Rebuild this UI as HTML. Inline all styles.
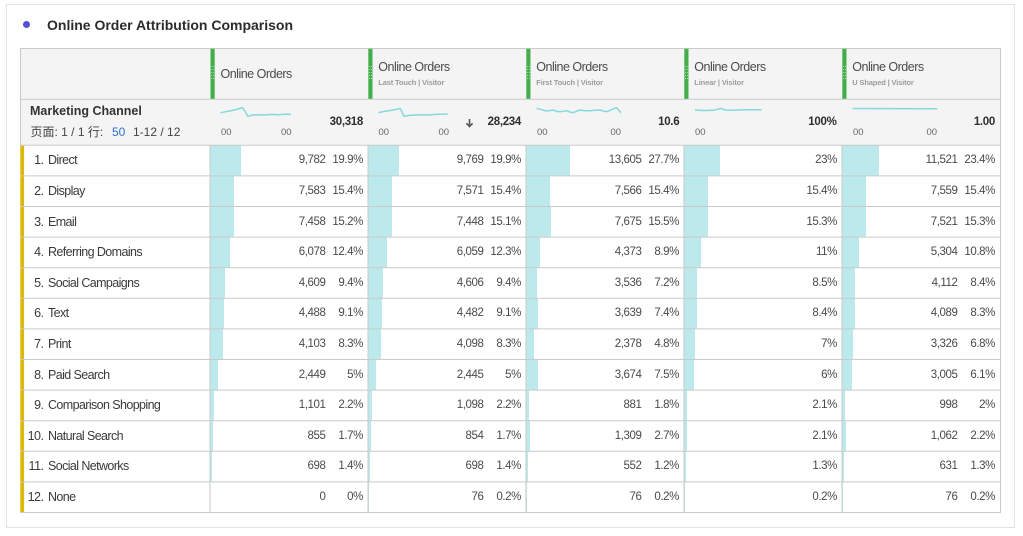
<!DOCTYPE html>
<html><head><meta charset="utf-8">
<style>
*{margin:0;padding:0;box-sizing:border-box}
body{width:1023px;height:536px;background:#fff;position:relative;overflow:hidden;font-family:"Liberation Sans","Noto Sans CJK SC",sans-serif;color:#4a4a4a}
.abs{position:absolute;white-space:nowrap}
.card{position:absolute;left:6px;top:4px;width:1009px;height:524px;border:1px solid #e2e2e2}
.hdbg{position:absolute;left:20px;top:48px;width:981px;height:97.3px;background:#f4f4f4}
.row{position:absolute;left:0;width:1023px;height:30.6px;line-height:30.6px;font-size:11.5px;letter-spacing:-0.4px;white-space:nowrap;color:#4a4a4a}
.row span{position:absolute;top:0}
.b{position:absolute;top:0;height:30.6px;background:#bceaec}
.ln{right:979.5px;font-size:12.5px;letter-spacing:-0.5px;color:#3a3a3a}
.lt{left:48px;font-size:12.5px;letter-spacing:-0.6px;color:#3a3a3a}
.n1{right:697.5px}.p1{right:660px}.n2{right:539.5px}.p2{right:502px}.n3{right:381.5px}.p3{right:344px}.p4{right:186px}.n5{right:65.5px}.p5{right:28px}
.ht{font-size:12.5px;letter-spacing:-0.5px;color:#4b4b4b;height:16px;line-height:16px}
.hs{font-size:7.5px;font-weight:bold;letter-spacing:-0.15px;color:#9c9c9c;height:10px;line-height:10px;top:78px}
.zz{font-size:9.5px;color:#666;top:127.3px;height:12px;line-height:12px}
.tot{font-size:11.5px;font-weight:bold;letter-spacing:-0.3px;color:#2e2e2e;top:114.3px;height:16px;line-height:16px;text-align:right;width:80px}
</style></head><body>
<div class="card"></div>
<div class="abs" style="left:22.7px;top:21.2px;width:7px;height:7px;border-radius:50%;background:#5050d8"></div>
<div class="abs" style="left:47px;top:16px;height:18px;line-height:18px;font-size:14px;font-weight:bold;color:#2c2c2c">Online Order Attribution Comparison</div>

<div class="hdbg"></div>

<!-- rows -->
<div class="row" style="top:145.3px">
<div class="b" style="left:210px;width:31.4px"></div><div class="b" style="left:368px;width:31.4px"></div><div class="b" style="left:526px;width:43.8px"></div><div class="b" style="left:684px;width:36.3px"></div><div class="b" style="left:842px;width:37px"></div>
<span class="ln">1.</span><span class="lt">Direct</span>
<span class="n1">9,782</span><span class="p1">19.9%</span><span class="n2">9,769</span><span class="p2">19.9%</span><span class="n3">13,605</span><span class="p3">27.7%</span><span class="p4">23%</span><span class="n5">11,521</span><span class="p5">23.4%</span>
</div>
<div class="row" style="top:175.9px">
<div class="b" style="left:210px;width:24.3px"></div><div class="b" style="left:368px;width:24.3px"></div><div class="b" style="left:526px;width:24.3px"></div><div class="b" style="left:684px;width:24.3px"></div><div class="b" style="left:842px;width:24.3px"></div>
<span class="ln">2.</span><span class="lt">Display</span>
<span class="n1">7,583</span><span class="p1">15.4%</span><span class="n2">7,571</span><span class="p2">15.4%</span><span class="n3">7,566</span><span class="p3">15.4%</span><span class="p4">15.4%</span><span class="n5">7,559</span><span class="p5">15.4%</span>
</div>
<div class="row" style="top:206.5px">
<div class="b" style="left:210px;width:24px"></div><div class="b" style="left:368px;width:23.9px"></div><div class="b" style="left:526px;width:24.5px"></div><div class="b" style="left:684px;width:24.2px"></div><div class="b" style="left:842px;width:24.2px"></div>
<span class="ln">3.</span><span class="lt">Email</span>
<span class="n1">7,458</span><span class="p1">15.2%</span><span class="n2">7,448</span><span class="p2">15.1%</span><span class="n3">7,675</span><span class="p3">15.5%</span><span class="p4">15.3%</span><span class="n5">7,521</span><span class="p5">15.3%</span>
</div>
<div class="row" style="top:237.1px">
<div class="b" style="left:210px;width:19.6px"></div><div class="b" style="left:368px;width:19.4px"></div><div class="b" style="left:526px;width:14.1px"></div><div class="b" style="left:684px;width:17.4px"></div><div class="b" style="left:842px;width:17.1px"></div>
<span class="ln">4.</span><span class="lt">Referring Domains</span>
<span class="n1">6,078</span><span class="p1">12.4%</span><span class="n2">6,059</span><span class="p2">12.3%</span><span class="n3">4,373</span><span class="p3">8.9%</span><span class="p4">11%</span><span class="n5">5,304</span><span class="p5">10.8%</span>
</div>
<div class="row" style="top:267.7px">
<div class="b" style="left:210px;width:14.9px"></div><div class="b" style="left:368px;width:14.9px"></div><div class="b" style="left:526px;width:11.4px"></div><div class="b" style="left:684px;width:13.4px"></div><div class="b" style="left:842px;width:13.3px"></div>
<span class="ln">5.</span><span class="lt">Social Campaigns</span>
<span class="n1">4,609</span><span class="p1">9.4%</span><span class="n2">4,606</span><span class="p2">9.4%</span><span class="n3">3,536</span><span class="p3">7.2%</span><span class="p4">8.5%</span><span class="n5">4,112</span><span class="p5">8.4%</span>
</div>
<div class="row" style="top:298.3px">
<div class="b" style="left:210px;width:14.4px"></div><div class="b" style="left:368px;width:14.4px"></div><div class="b" style="left:526px;width:11.7px"></div><div class="b" style="left:684px;width:13.3px"></div><div class="b" style="left:842px;width:13.1px"></div>
<span class="ln">6.</span><span class="lt">Text</span>
<span class="n1">4,488</span><span class="p1">9.1%</span><span class="n2">4,482</span><span class="p2">9.1%</span><span class="n3">3,639</span><span class="p3">7.4%</span><span class="p4">8.4%</span><span class="n5">4,089</span><span class="p5">8.3%</span>
</div>
<div class="row" style="top:328.9px">
<div class="b" style="left:210px;width:13.1px"></div><div class="b" style="left:368px;width:13.1px"></div><div class="b" style="left:526px;width:7.6px"></div><div class="b" style="left:684px;width:11.1px"></div><div class="b" style="left:842px;width:10.7px"></div>
<span class="ln">7.</span><span class="lt">Print</span>
<span class="n1">4,103</span><span class="p1">8.3%</span><span class="n2">4,098</span><span class="p2">8.3%</span><span class="n3">2,378</span><span class="p3">4.8%</span><span class="p4">7%</span><span class="n5">3,326</span><span class="p5">6.8%</span>
</div>
<div class="row" style="top:359.5px">
<div class="b" style="left:210px;width:7.9px"></div><div class="b" style="left:368px;width:7.9px"></div><div class="b" style="left:526px;width:11.9px"></div><div class="b" style="left:684px;width:9.5px"></div><div class="b" style="left:842px;width:9.6px"></div>
<span class="ln">8.</span><span class="lt">Paid Search</span>
<span class="n1">2,449</span><span class="p1">5%</span><span class="n2">2,445</span><span class="p2">5%</span><span class="n3">3,674</span><span class="p3">7.5%</span><span class="p4">6%</span><span class="n5">3,005</span><span class="p5">6.1%</span>
</div>
<div class="row" style="top:390.1px">
<div class="b" style="left:210px;width:3.5px"></div><div class="b" style="left:368px;width:3.5px"></div><div class="b" style="left:526px;width:2.8px"></div><div class="b" style="left:684px;width:3.3px"></div><div class="b" style="left:842px;width:3.2px"></div>
<span class="ln">9.</span><span class="lt">Comparison Shopping</span>
<span class="n1">1,101</span><span class="p1">2.2%</span><span class="n2">1,098</span><span class="p2">2.2%</span><span class="n3">881</span><span class="p3">1.8%</span><span class="p4">2.1%</span><span class="n5">998</span><span class="p5">2%</span>
</div>
<div class="row" style="top:420.7px">
<div class="b" style="left:210px;width:2.7px"></div><div class="b" style="left:368px;width:2.7px"></div><div class="b" style="left:526px;width:4.3px"></div><div class="b" style="left:684px;width:3.3px"></div><div class="b" style="left:842px;width:3.5px"></div>
<span class="ln">10.</span><span class="lt">Natural Search</span>
<span class="n1">855</span><span class="p1">1.7%</span><span class="n2">854</span><span class="p2">1.7%</span><span class="n3">1,309</span><span class="p3">2.7%</span><span class="p4">2.1%</span><span class="n5">1,062</span><span class="p5">2.2%</span>
</div>
<div class="row" style="top:451.3px">
<div class="b" style="left:210px;width:2.2px"></div><div class="b" style="left:368px;width:2.2px"></div><div class="b" style="left:526px;width:1.9px"></div><div class="b" style="left:684px;width:2.1px"></div><div class="b" style="left:842px;width:2.1px"></div>
<span class="ln">11.</span><span class="lt">Social Networks</span>
<span class="n1">698</span><span class="p1">1.4%</span><span class="n2">698</span><span class="p2">1.4%</span><span class="n3">552</span><span class="p3">1.2%</span><span class="p4">1.3%</span><span class="n5">631</span><span class="p5">1.3%</span>
</div>
<div class="row" style="top:481.9px">
<div class="b" style="left:368px;width:1.4px"></div><div class="b" style="left:526px;width:1.4px"></div><div class="b" style="left:684px;width:1.4px"></div><div class="b" style="left:842px;width:1.4px"></div>
<span class="ln">12.</span><span class="lt">None</span>
<span class="n1">0</span><span class="p1">0%</span><span class="n2">76</span><span class="p2">0.2%</span><span class="n3">76</span><span class="p3">0.2%</span><span class="p4">0.2%</span><span class="n5">76</span><span class="p5">0.2%</span>
</div>

<svg class="abs" style="left:0;top:0" width="1023" height="536" viewBox="0 0 1023 536">
  <!-- yellow markers -->
  <rect x="20.3" y="145.3" width="3.8" height="367.2" fill="#dfb60a"/>
  <g stroke="#cacaca" stroke-width="1" fill="none">
    <line x1="20" y1="48.5" x2="1001" y2="48.5"/>
    <line x1="20" y1="99.3" x2="1001" y2="99.3"/>
    <line x1="20" y1="145.3" x2="1001" y2="145.3"/>
    <line x1="20" y1="175.9" x2="1001" y2="175.9"/>
    <line x1="20" y1="206.5" x2="1001" y2="206.5"/>
    <line x1="20" y1="237.1" x2="1001" y2="237.1"/>
    <line x1="20" y1="267.7" x2="1001" y2="267.7"/>
    <line x1="20" y1="298.3" x2="1001" y2="298.3"/>
    <line x1="20" y1="328.9" x2="1001" y2="328.9"/>
    <line x1="20" y1="359.5" x2="1001" y2="359.5"/>
    <line x1="20" y1="390.1" x2="1001" y2="390.1"/>
    <line x1="20" y1="420.7" x2="1001" y2="420.7"/>
    <line x1="20" y1="451.3" x2="1001" y2="451.3"/>
    <line x1="20" y1="481.9" x2="1001" y2="481.9"/>
    <line x1="20" y1="512.5" x2="1001" y2="512.5"/>
    <line x1="20.5" y1="48" x2="20.5" y2="145.3"/>
    <line x1="1000.5" y1="48" x2="1000.5" y2="513"/>
    <line x1="210" y1="145.3" x2="210" y2="512.5"/>
    <line x1="368" y1="145.3" x2="368" y2="512.5"/>
    <line x1="526" y1="145.3" x2="526" y2="512.5"/>
    <line x1="684" y1="145.3" x2="684" y2="512.5"/>
    <line x1="842" y1="145.3" x2="842" y2="512.5"/>
  </g>
  <!-- green header grips -->
  <g fill="#43ae4b">
    <rect x="210.5" y="48.8" width="4.2" height="50"/>
    <rect x="368.3" y="48.8" width="4.2" height="50"/>
    <rect x="526.3" y="48.8" width="4.2" height="50"/>
    <rect x="684.3" y="48.8" width="4.2" height="50"/>
    <rect x="842.3" y="48.8" width="4.2" height="50"/>
  </g>
  <g fill="#a8dcab">
    <rect x="211.3" y="66" width="1" height="1"/><rect x="213.3" y="66" width="1" height="1"/>
    <rect x="211.3" y="69" width="1" height="1"/><rect x="213.3" y="69" width="1" height="1"/>
    <rect x="211.3" y="72" width="1" height="1"/><rect x="213.3" y="72" width="1" height="1"/>
    <rect x="211.3" y="75" width="1" height="1"/><rect x="213.3" y="75" width="1" height="1"/>
    <rect x="211.3" y="78" width="1" height="1"/><rect x="213.3" y="78" width="1" height="1"/>
    <rect x="369.1" y="66" width="1" height="1"/><rect x="371.1" y="66" width="1" height="1"/>
    <rect x="369.1" y="69" width="1" height="1"/><rect x="371.1" y="69" width="1" height="1"/>
    <rect x="369.1" y="72" width="1" height="1"/><rect x="371.1" y="72" width="1" height="1"/>
    <rect x="369.1" y="75" width="1" height="1"/><rect x="371.1" y="75" width="1" height="1"/>
    <rect x="369.1" y="78" width="1" height="1"/><rect x="371.1" y="78" width="1" height="1"/>
    <rect x="527.1" y="66" width="1" height="1"/><rect x="529.1" y="66" width="1" height="1"/>
    <rect x="527.1" y="69" width="1" height="1"/><rect x="529.1" y="69" width="1" height="1"/>
    <rect x="527.1" y="72" width="1" height="1"/><rect x="529.1" y="72" width="1" height="1"/>
    <rect x="527.1" y="75" width="1" height="1"/><rect x="529.1" y="75" width="1" height="1"/>
    <rect x="527.1" y="78" width="1" height="1"/><rect x="529.1" y="78" width="1" height="1"/>
    <rect x="685.1" y="66" width="1" height="1"/><rect x="687.1" y="66" width="1" height="1"/>
    <rect x="685.1" y="69" width="1" height="1"/><rect x="687.1" y="69" width="1" height="1"/>
    <rect x="685.1" y="72" width="1" height="1"/><rect x="687.1" y="72" width="1" height="1"/>
    <rect x="685.1" y="75" width="1" height="1"/><rect x="687.1" y="75" width="1" height="1"/>
    <rect x="685.1" y="78" width="1" height="1"/><rect x="687.1" y="78" width="1" height="1"/>
    <rect x="843.1" y="66" width="1" height="1"/><rect x="845.1" y="66" width="1" height="1"/>
    <rect x="843.1" y="69" width="1" height="1"/><rect x="845.1" y="69" width="1" height="1"/>
    <rect x="843.1" y="72" width="1" height="1"/><rect x="845.1" y="72" width="1" height="1"/>
    <rect x="843.1" y="75" width="1" height="1"/><rect x="845.1" y="75" width="1" height="1"/>
    <rect x="843.1" y="78" width="1" height="1"/><rect x="845.1" y="78" width="1" height="1"/>
  </g>
  <!-- sparklines -->
  <g stroke="#86d9db" stroke-width="1.5" fill="none" stroke-linejoin="round">
    <polyline points="220.7,112.7 226,111.7 232,110.5 238,109 242.7,107.7 245,111 247.7,116.3 253,115 260,114.7 266,114.9 272,114.4 278,114.7 284,114.2 291,114.3"/>
    <polyline points="378.3,112.7 384,111.5 390,110.5 396,109.5 400,108.3 402,112 404,116.3 410,115.3 416,115 422,114.8 428,115 434,114.5 440,114.3 447.7,114"/>
    <polyline points="536.7,108.3 541,109.5 546.7,111 553.3,110 557,111.5 560,111.7 566.7,110.7 570,112 573.3,112.7 577,111 580,110 585,110.7 590,110.7 595,110.3 600,110 603,111 606.7,111.7 611,110 614,108.5 616.7,107.7 619,110.5 621,112.7"/>
    <polyline points="695,110 703,110.5 713.3,110.3 717,109.5 721,108.3 725,110 733,110.2 745,109.8 761.7,109.7"/>
    <polyline points="852.7,108.5 937.3,108.8"/>
  </g>
  <!-- down arrow -->
  <path d="M469.5 119 V126.3 M466.4 123.3 L469.5 126.5 L472.6 123.3" stroke="#555" stroke-width="1.6" fill="none"/>
</svg>

<!-- header texts -->
<div class="abs ht" style="left:220.5px;top:66px">Online Orders</div>
<div class="abs ht" style="left:378.3px;top:59.2px">Online Orders</div>
<div class="abs hs" style="left:378.3px">Last Touch | Visitor</div>
<div class="abs ht" style="left:536.3px;top:59.2px">Online Orders</div>
<div class="abs hs" style="left:536.3px">First Touch | Visitor</div>
<div class="abs ht" style="left:694.3px;top:59.2px">Online Orders</div>
<div class="abs hs" style="left:694.3px">Linear | Visitor</div>
<div class="abs ht" style="left:852.3px;top:59.2px">Online Orders</div>
<div class="abs hs" style="left:852.3px">U Shaped | Visitor</div>

<div class="abs" style="left:30px;top:103.3px;height:16px;line-height:16px;font-size:12.5px;font-weight:bold;color:#333">Marketing Channel</div>
<div class="abs" style="left:30.5px;top:123.7px;height:16px;line-height:16px;font-size:12px;color:#444">页面: 1 / 1 行:</div>
<div class="abs" style="left:112px;top:123.5px;height:16px;line-height:16px;font-size:12px;color:#2b74d6">50</div>
<div class="abs" style="left:133px;top:123.7px;height:16px;line-height:16px;font-size:12px;color:#444">1-12 / 12</div>

<div class="abs zz" style="left:221px">00</div>
<div class="abs zz" style="left:281px">00</div>
<div class="abs zz" style="left:378.5px">00</div>
<div class="abs zz" style="left:438.5px">00</div>
<div class="abs zz" style="left:537px">00</div>
<div class="abs zz" style="left:610.5px">00</div>
<div class="abs zz" style="left:695px">00</div>
<div class="abs zz" style="left:853px">00</div>
<div class="abs zz" style="left:926.5px">00</div>

<div class="abs tot" style="left:283px">30,318</div>
<div class="abs tot" style="left:441px">28,234</div>
<div class="abs tot" style="left:599.3px">10.6</div>
<div class="abs tot" style="left:756.5px">100%</div>
<div class="abs tot" style="left:915px">1.00</div>
</body></html>
